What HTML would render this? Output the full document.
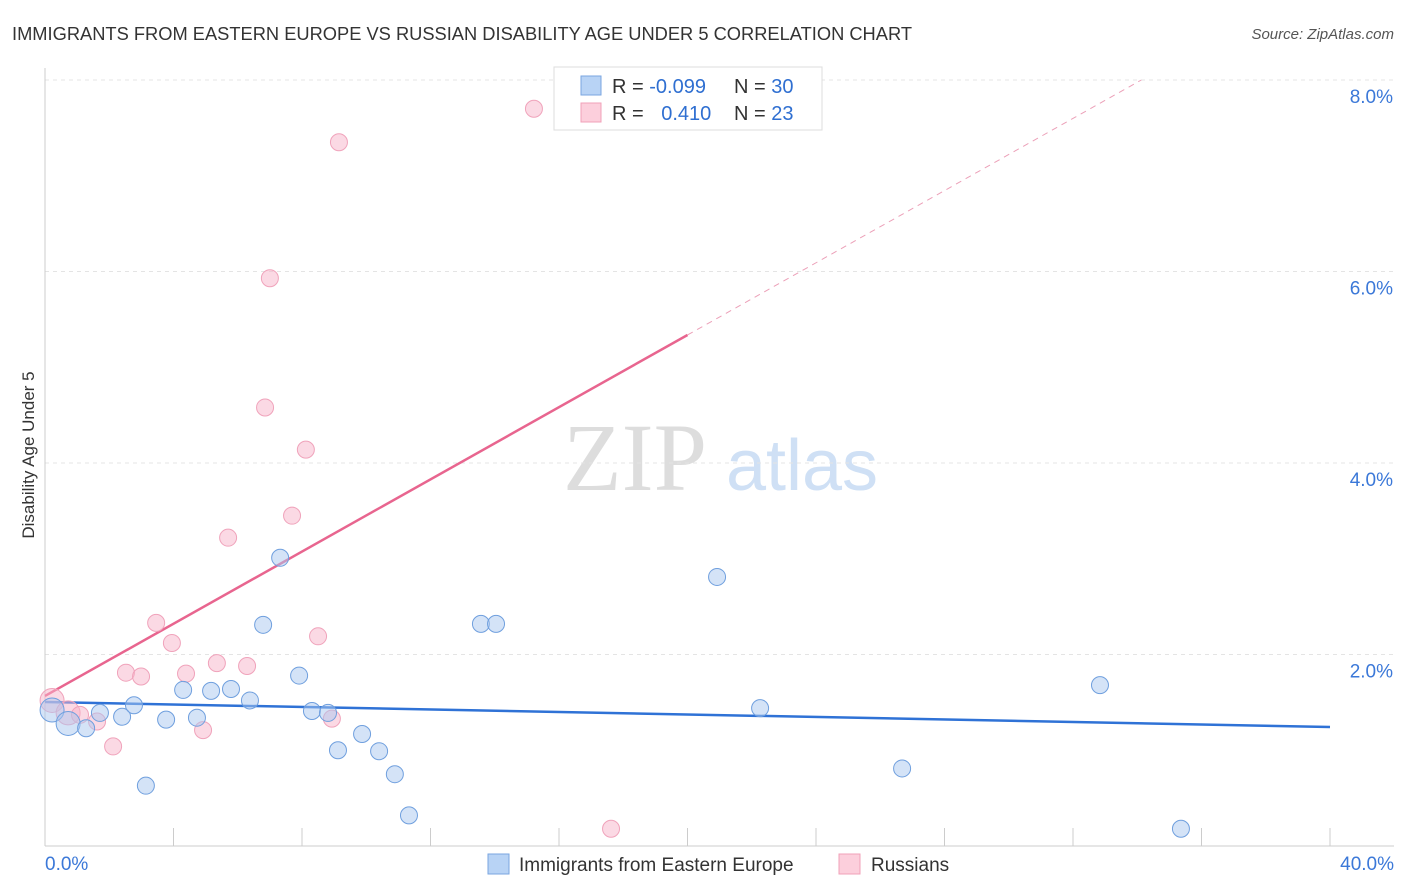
<!DOCTYPE html>
<html><head><meta charset="utf-8">
<style>
body{margin:0;background:#fff;font-family:"Liberation Sans",sans-serif;}
svg{display:block}
</style></head>
<body>
<svg id="chart" width="1406" height="892" xmlns="http://www.w3.org/2000/svg">
<text x="12" y="40" font-size="18.3" fill="#333">IMMIGRANTS FROM EASTERN EUROPE VS RUSSIAN DISABILITY AGE UNDER 5 CORRELATION CHART</text>
<text x="1394" y="39" font-size="15" fill="#555" font-style="italic" text-anchor="end">Source: ZipAtlas.com</text>
<text x="34" y="455" font-size="17" fill="#333" text-anchor="middle" transform="rotate(-90 34 455)">Disability Age Under 5</text>
<g>
<text x="635" y="490" font-size="96" fill="#ddd" font-family="Liberation Serif,serif" text-anchor="middle">ZIP</text>
<text x="802" y="490" font-size="72" fill="#cfe0f5" text-anchor="middle">atlas</text>
</g>
<g id="grid"></g>
<g id="axes"></g>
<g id="lines"></g>
<g id="points"></g>
<g>
<rect x="554" y="67" width="268" height="63" fill="#fff" stroke="#ddd"/>
<rect x="581" y="76" width="20" height="19" fill="#b8d3f5" stroke="#7aa6e0"/>
<rect x="581" y="103" width="20" height="19" fill="#fccfdc" stroke="#f1a0b8"/>
<text x="612" y="93" font-size="20" fill="#333">R = <tspan fill="#2f6fd1">-0.099</tspan></text>
<text x="734" y="93" font-size="20" fill="#333">N = <tspan fill="#2f6fd1">30</tspan></text>
<text x="612" y="120" font-size="20" fill="#333">R = <tspan fill="#2f6fd1" dx="12">0.410</tspan></text>
<text x="734" y="120" font-size="20" fill="#333">N = <tspan fill="#2f6fd1">23</tspan></text>
</g>
<g>
<rect x="488" y="854" width="21" height="20" fill="#b8d3f5" stroke="#7aa6e0"/>
<text x="519" y="871" font-size="19" fill="#333">Immigrants from Eastern Europe</text>
<rect x="839" y="854" width="21" height="20" fill="#fccfdc" stroke="#f1a0b8"/>
<text x="871" y="871" font-size="19" fill="#333">Russians</text>
</g>
</svg>
<script>
const blueX=[0.22,0.72,1.28,1.71,2.40,2.77,3.14,3.77,4.30,4.73,5.17,5.79,6.38,6.79,7.32,7.91,8.31,8.81,9.12,9.87,10.40,10.89,11.33,13.57,14.04,20.92,22.26,26.68,32.84,35.36];
const blueY=[1.42,1.28,1.23,1.39,1.35,1.47,0.63,1.32,1.63,1.34,1.62,1.64,1.52,2.31,3.01,1.78,1.41,1.39,1.00,1.17,0.99,0.75,0.32,2.32,2.32,2.81,1.44,0.81,1.68,0.18];
const pinkX=[0.22,0.72,1.09,1.62,2.12,2.52,2.99,3.46,3.95,4.39,4.92,5.35,5.70,6.29,6.85,7.00,7.69,8.12,8.50,8.93,9.15,15.22,17.62];
const pinkY=[1.52,1.39,1.37,1.30,1.04,1.81,1.77,2.33,2.12,1.80,1.21,1.91,3.22,1.88,4.58,5.93,3.45,4.14,2.19,1.33,7.35,7.70,0.18];
const blueTrend=[1.504,1.243];
const pinkTrend=[1.567,0.1885];
const yTicks=[2,4,6,8];
const yTickLabels=["2.0%","4.0%","6.0%","8.0%"];
const xTicks=[0,4,8,12,16,20,24,28,32,36,40];

const NS="http://www.w3.org/2000/svg";
const X=v=>45+v*32.125;
const Y=v=>846-v*95.75;
function mk(parent,tag,attrs){const e=document.createElementNS(NS,tag);for(const k in attrs)e.setAttribute(k,attrs[k]);document.getElementById(parent).appendChild(e);return e;}

yTicks.forEach((t,i)=>{
  const g=mk('grid','line',{x1:45,x2:1394,y1:Y(t),y2:Y(t),stroke:'#e4e4e4','stroke-dasharray':'4,4'});
  
  
  const l=mk('grid','text',{x:1393,y:Y(t)+23,'font-size':19,fill:'#3b78d8','text-anchor':'end'});
  l.textContent=yTickLabels[i];
  
  
});
const ax=mk('axes','line',{x1:45,x2:45,y1:68,y2:846,stroke:'#ccc'});


const bx=mk('axes','line',{x1:45,x2:1394,y1:846,y2:846,stroke:'#ccc'});


xTicks.forEach(t=>{
  const e=mk('axes','line',{x1:X(t),x2:X(t),y1:828,y2:846,stroke:'#ccc'});
  
  
});
const xl0=mk('axes','text',{x:45,y:870,'font-size':19,fill:'#3b78d8'});xl0.textContent='0.0%';


const xl1=mk('axes','text',{x:1394,y:870,'font-size':19,fill:'#3b78d8','text-anchor':'end'});xl1.textContent='40.0%';



const bl=mk('lines','line',{x1:X(0),y1:Y(blueTrend[0]),x2:X(40),y2:Y(blueTrend[1]),stroke:'#2f72d6','stroke-width':2.5});


const pl=mk('lines','line',{x1:X(0),y1:Y(pinkTrend[0]),x2:X(20),y2:Y(pinkTrend[0]+pinkTrend[1]*20),stroke:'#e8658f','stroke-width':2.5});


const xe=(8-pinkTrend[0])/pinkTrend[1];
const pd=mk('lines','line',{x1:X(20),y1:Y(pinkTrend[0]+pinkTrend[1]*20),x2:X(xe),y2:Y(8),stroke:'#eca0b8','stroke-width':1,'stroke-dasharray':'6,5'});



pinkX.forEach((x,i)=>{
  const c=mk('points','circle',{cx:X(x),cy:Y(pinkY[i]),r:i<2?12:8.5,fill:'rgba(248,180,202,0.5)',stroke:'#f0a3bb','stroke-width':1});
  
  
});
blueX.forEach((x,i)=>{
  const c=mk('points','circle',{cx:X(x),cy:Y(blueY[i]),r:i<2?12:8.5,fill:'rgba(170,200,240,0.5)',stroke:'#6f9fde','stroke-width':1});
  
  
});
</script>
</body></html>
